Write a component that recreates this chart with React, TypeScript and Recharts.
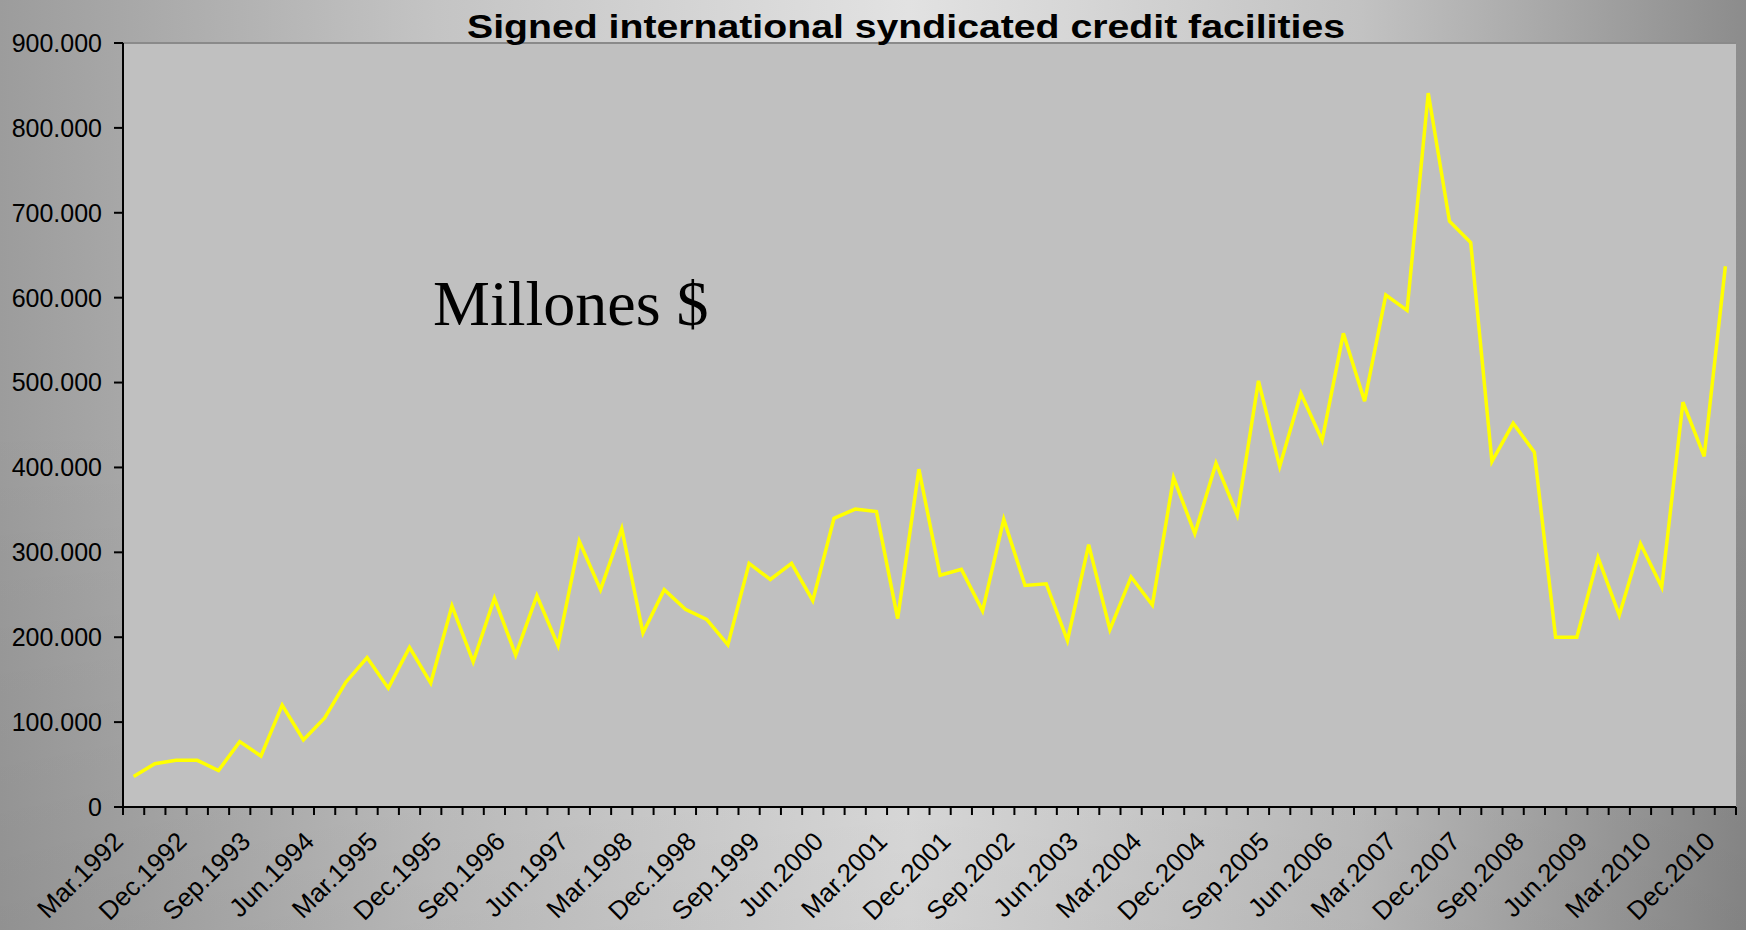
import React from 'react';
import {
  LineChart,
  Line,
  XAxis,
  YAxis,
  CartesianGrid,
  ReferenceLine,
} from 'recharts';

// quarters from Mar.1992 to Dec.2010
const years = [
  1992, 1993, 1994, 1995, 1996, 1997, 1998, 1999, 2000, 2001,
  2002, 2003, 2004, 2005, 2006, 2007, 2008, 2009, 2010,
];
const quarterMonths = ['Mar', 'Jun', 'Sep', 'Dec'];
const categories = years.flatMap((y) => quarterMonths.map((m) => `${m}.${y}`));

// signed facilities, millions of $
const facilities = [
  36, 51, 55, 55, 43, 77, 60, 120, 79, 105,
  147, 176, 140, 188, 146, 237, 171, 246, 179, 249,
  190, 313, 256, 328, 205, 256, 233, 221, 191, 287,
  268, 287, 243, 340, 351, 348, 222, 398, 273, 280,
  231, 339, 261, 263, 196, 309, 209, 271, 238, 388,
  322, 405, 344, 502, 401, 487, 432, 558, 478, 603,
  585, 841, 690, 665, 407, 452, 418, 200, 200, 294,
  226, 310, 259, 477, 413, 637,
];

const yTicks = [0, 100000, 200000, 300000, 400000, 500000, 600000, 700000, 800000, 900000];

const data = categories.map((label, i) => ({ label, value: facilities[i] * 1000 }));

const W = 1746;
const H = 930;
const PLOT_LEFT = 123;
const PLOT_RIGHT = 1736;
const PLOT_TOP = 43;
const PLOT_BOTTOM = 807;
const step = (PLOT_RIGHT - PLOT_LEFT) / categories.length;

const fmtY = (v: number) => (v === 0 ? '0' : `${v / 1000}.000`);

const QuarterTick = (props: any) => {
  const { x, y, payload, index } = props;
  const left = x - step / 2;
  const tx = x - 9;
  const ty = y + 36;
  return (
    <g>
      <line x1={left} y1={y} x2={left} y2={y + 8} stroke="#000" strokeWidth={2} />
      {index === categories.length - 1 && (
        <line x1={x + step / 2} y1={y} x2={x + step / 2} y2={y + 8} stroke="#000" strokeWidth={2} />
      )}
      {index % 3 === 0 && (
        <text
          x={tx}
          y={ty}
          textAnchor="end"
          transform={`rotate(-45, ${tx}, ${ty})`}
          fontFamily="'Liberation Sans', Arial, sans-serif"
          fontSize={26}
          fill="#000"
        >
          {payload.value}
        </text>
      )}
    </g>
  );
};

export default function App() {
  return (
    <div
      style={{
        position: 'relative',
        width: W,
        height: H,
        background:
          'linear-gradient(180deg, rgba(0,0,0,0) 45%, rgba(0,0,0,0.07) 100%), linear-gradient(90deg, #9c9c9c 0%, #c4c4c4 25%, #e2e2e2 52%, #c2c2c2 78%, #8c8c8c 100%)',
      }}
    >
      <style>{'body{margin:0}'}</style>
      <LineChart
        width={W}
        height={H}
        data={data}
        margin={{ top: PLOT_TOP, right: W - PLOT_RIGHT, bottom: 0, left: 0 }}
      >
        <CartesianGrid horizontal={false} vertical={false} fill="#c0c0c0" />
        <XAxis
          dataKey="label"
          height={H - PLOT_BOTTOM}
          interval={0}
          tickLine={false}
          tickSize={0}
          tickMargin={0}
          padding={{ left: step / 2, right: step / 2 }}
          axisLine={{ stroke: '#000', strokeWidth: 2 }}
          tick={<QuarterTick />}
        />
        <YAxis
          width={PLOT_LEFT}
          domain={[0, 900000]}
          ticks={yTicks}
          interval={0}
          tickFormatter={fmtY}
          tickSize={9}
          tickMargin={12}
          axisLine={{ stroke: '#000', strokeWidth: 2 }}
          tickLine={{ stroke: '#000', strokeWidth: 2 }}
          tick={{ fill: '#000', fontSize: 25, fontFamily: "'Liberation Sans', Arial, sans-serif" }}
        />
        <YAxis
          yAxisId="right"
          orientation="right"
          width={0}
          tick={false}
          tickLine={false}
          axisLine={{ stroke: '#808080', strokeWidth: 2 }}
        />
        <ReferenceLine y={900000} stroke="#8a8a8a" strokeWidth={2} />
        <Line
          type="linear"
          dataKey="value"
          stroke="#ffff00"
          strokeWidth={3.5}
          dot={false}
          activeDot={false}
          isAnimationActive={false}
        />
      </LineChart>
      <svg
        width={W}
        height={H}
        style={{ position: 'absolute', left: 0, top: 0, pointerEvents: 'none' }}
      >
        <text
          x={467}
          y={38}
          textLength={878}
          lengthAdjust="spacingAndGlyphs"
          fontFamily="'Liberation Sans Narrow', 'Liberation Sans', Arial, sans-serif"
          fontWeight="bold"
          fontSize={34}
          fill="#000"
        >
          Signed international syndicated credit facilities
        </text>
        <text
          x={433}
          y={325}
          fontFamily="'Liberation Serif', 'Times New Roman', serif"
          fontSize={64}
          fill="#000"
        >
          Millones $
        </text>
      </svg>
    </div>
  );
}
